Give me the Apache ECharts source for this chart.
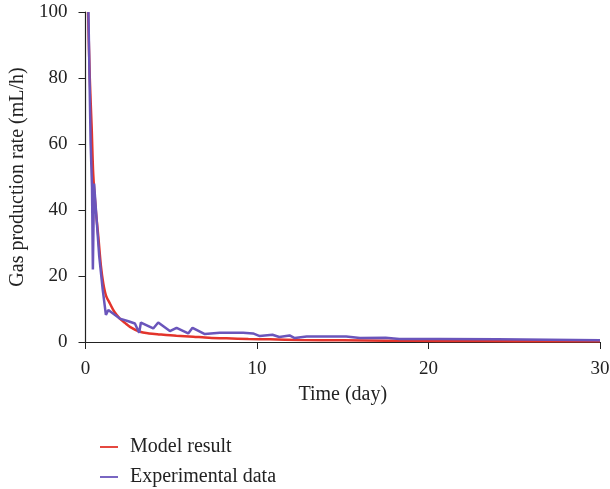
<!DOCTYPE html>
<html>
<head>
<meta charset="utf-8">
<script src="https://cdn.jsdelivr.net/npm/echarts@6/dist/echarts.min.js"></script>
<style>
html,body{margin:0;padding:0;background:#fff;}
#chart{width:610px;height:489px;}
</style>
</head>
<body>
<div id="chart"></div>
<script>
var modelTime = [0.15, 0.25, 0.36, 0.45, 0.6, 0.75, 0.9, 1.04, 1.2, 1.43, 1.7, 2.0, 2.3, 2.59, 3.17, 3.7, 4.34, 5.3, 6.28, 7.2, 8.22, 9.5, 10.75, 12.5, 15, 17.5, 20.6, 25, 30];
var modelRate = [100, 80, 65, 51, 40, 31.8, 23, 17.7, 14, 11.6, 9, 7.1, 5.8, 4.6, 3.1, 2.6, 2.3, 1.9, 1.6, 1.3, 1.1, 0.9, 0.8, 0.6, 0.5, 0.4, 0.3, 0.25, 0.2];

var expTime = [0.17, 0.3, 0.38, 0.43, 0.5, 0.65, 0.8, 1.0, 1.19, 1.33, 1.43, 2.0, 2.5, 2.88, 3.13, 3.23, 3.95, 4.24, 4.92, 5.31, 5.99, 6.24, 6.96, 7.83, 9.19, 9.77, 10.16, 10.9, 11.3, 11.9, 12.2, 12.9, 15.2, 16.0, 17.5, 18.3, 20.6, 24, 27, 30];
var expRate = [100, 60, 47, 22, 48, 37, 26, 16, 8.2, 9.7, 9.2, 7.1, 6.3, 5.6, 2.8, 5.9, 4.1, 5.9, 3.3, 4.3, 2.6, 4.3, 2.4, 2.8, 2.8, 2.6, 1.8, 2.2, 1.5, 2.0, 1.2, 1.7, 1.7, 1.2, 1.3, 0.9, 0.9, 0.8, 0.7, 0.5];

var seriesNames = ['Model result', 'Experimental data'];
var xTitle = 'Time (day)';
var yTitle = 'Gas production rate (mL/h)';

function pairs(xs, ys) { return xs.map(function (x, i) { return [x, ys[i]]; }); }

var font = '"Liberation Serif", "DejaVu Serif", serif';
var chart = echarts.init(document.getElementById('chart'), null, {renderer: 'canvas'});
chart.setOption({
  animation: false,
  backgroundColor: '#fff',
  grid: {left: 85.5, right: 10, top: 12, bottom: 147, containLabel: false, outerBoundsMode: 'none'},
  legend: {
    orient: 'vertical',
    left: 95, top: 432, height: 56,
    itemWidth: 18, itemHeight: 10, itemGap: 10,
    icon: 'path://M0,4 L20,4 L20,6 L0,6 Z',
    textStyle: {fontFamily: font, fontSize: 20, lineHeight: 20, color: '#222', padding: [0, 0, 0, 7]},
    data: seriesNames
  },
  xAxis: {
    type: 'value', min: 0, max: 30, interval: 10,
    name: xTitle, nameLocation: 'middle', nameGap: 43,
    nameTextStyle: {fontFamily: font, fontSize: 20, color: '#222'},
    axisLine: {lineStyle: {color: '#222', width: 1.2}},
    axisTick: {show: true, inside: false, length: 7, lineStyle: {color: '#222'}},
    axisLabel: {fontFamily: font, fontSize: 19, color: '#222', margin: 18},
    splitLine: {show: false}
  },
  yAxis: {
    type: 'value', min: 0, max: 100, interval: 20,
    name: yTitle, nameLocation: 'middle', nameGap: 57, nameRotate: 90,
    nameTextStyle: {fontFamily: font, fontSize: 20, color: '#222'},
    axisLine: {show: true, lineStyle: {color: '#222', width: 1.2}},
    axisTick: {show: true, inside: false, length: 7, lineStyle: {color: '#222'}},
    axisLabel: {fontFamily: font, fontSize: 19, color: '#222', margin: 18},
    splitLine: {show: false}
  },
  series: [
    {
      name: seriesNames[0], type: 'line', smooth: 0.3, showSymbol: false,
      clip: true,
      lineStyle: {color: '#e3342b', width: 2.5},
      itemStyle: {color: '#e3342b'},
      data: pairs(modelTime, modelRate)
    },
    {
      name: seriesNames[1], type: 'line', smooth: false, showSymbol: false,
      clip: true,
      lineStyle: {color: '#6a55bb', width: 2.5},
      itemStyle: {color: '#6a55bb'},
      data: pairs(expTime, expRate)
    }
  ]
});
</script>
</body>
</html>
